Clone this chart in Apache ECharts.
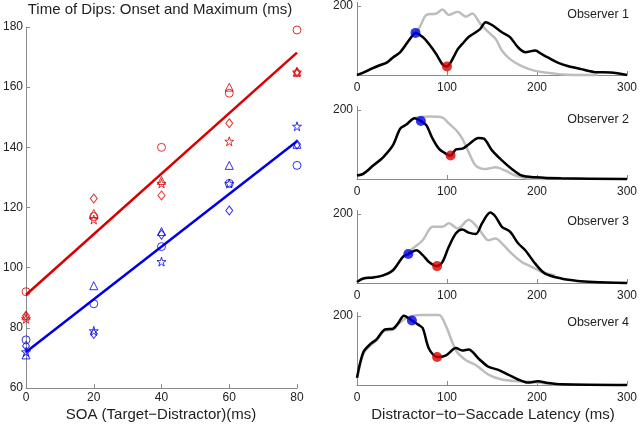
<!DOCTYPE html>
<html>
<head>
<meta charset="utf-8">
<script src="https://cdn.jsdelivr.net/npm/echarts@6/dist/echarts.min.js"></script>
<style>html,body{margin:0;padding:0;background:#fff}#c{width:640px;height:424px}</style>
</head>
<body>
<div id="c"></div>
<script>
// ---------- Left panel data ----------
const soa = [0, 20, 40, 60, 80];
const xTicks = [0, 20, 40, 60, 80];
const yTicks = [60, 80, 100, 120, 140, 160, 180];
// Onset (blue)
const onsetCircle   = [76, 88, 107, 128, 134];
const onsetTriangle = [71, 94, 112, 134, 141];
const onsetDiamond  = [74, 78, 111, 119, 141];
const onsetStar     = [72, 79, 102, 128, 147];
// Maximum (red)
const maxCircle   = [92, 117, 140, 158, 179];
const maxTriangle = [84, 118, 129, 160, 165];
const maxDiamond  = [84, 123, 124, 148, 165];
const maxStar     = [83, 116, 128, 142, 165];
// Fit lines
const fitX = [0, 80];
const onsetFit = [72, 142];
const maxFit = [91, 171.5];

// ---------- Right panels data: [latency ms, count] ----------
const obs1Black = [[0,0],[7,7],[15,17],[26,29],[33,36],[40,51],[48,66],[59,105],[65,122],[73,110],[80,90],[88,61],[95,31],[100,25],[104,36],[112,75],[117,90],[124,110],[132,124],[137,134],[143,153],[150,145],[161,124],[170,110],[179,80],[187,66],[198,71],[205,61],[212,51],[223,36],[234,26],[249,17],[263,9],[282,7],[300,0]];
const obs1Gray = [[0,0],[7,7],[15,17],[26,29],[33,36],[40,51],[48,66],[59,105],[65,122],[70,140],[77,174],[88,178],[95,190],[102,174],[112,183],[121,169],[128,178],[137,149],[146,124],[154,105],[161,71],[170,46],[183,26],[198,12],[220,4],[234,1],[267,0]];
const obs2Black = [[0,10],[7,15],[18,39],[29,63],[40,98],[48,146],[55,158],[64,176],[71,168],[77,156],[84,117],[91,88],[99,73],[104,68],[110,86],[117,88],[124,100],[135,119],[141,117],[150,83],[161,54],[172,29],[183,10],[198,5],[227,2],[300,0]];
const obs2Gray = [[0,10],[7,15],[18,39],[29,63],[40,98],[48,146],[55,158],[64,176],[80,181],[95,178],[102,161],[110,142],[117,117],[124,78],[132,39],[143,29],[154,34],[165,24],[176,10],[190,2],[209,0]];
const obs3Black = [[0,3],[7,13],[18,16],[29,22],[40,37],[51,76],[57,84],[66,95],[73,81],[80,61],[89,49],[95,61],[102,105],[110,144],[117,155],[124,146],[132,142],[139,173],[148,204],[154,192],[161,163],[170,149],[179,115],[187,95],[198,56],[209,27],[227,13],[245,6],[263,3],[300,0]];
const obs3Gray = [[0,3],[7,13],[18,16],[29,22],[40,37],[51,76],[57,84],[62,100],[73,124],[84,163],[95,163],[102,173],[112,158],[124,183],[135,158],[146,124],[154,129],[161,115],[172,85],[183,61],[194,47],[205,32],[212,27],[220,22]];
const obs4Black = [[0,21],[7,95],[15,119],[22,133],[31,161],[40,163],[46,180],[52,201],[61,187],[68,175],[73,165],[80,105],[89,81],[99,86],[110,107],[117,100],[124,103],[135,77],[146,53],[157,44],[168,30],[179,16],[190,7],[201,11],[212,6],[227,2],[300,0]];
const obs4Gray = [[0,18],[7,90],[15,115],[22,130],[31,158],[40,160],[46,177],[55,194],[70,203],[91,203],[99,170],[110,100],[121,72],[132,58],[146,30],[161,16],[179,11],[198,8],[220,2],[227,0]];
const onsetDots = [[65,122],[71,168],[57,84],[61,187]];
const maxDots = [[100,25],[104,68],[89,49],[89,81]];
const observerNames = ['Observer 1','Observer 2','Observer 3','Observer 4'];
const latTicks = [0, 100, 200, 300];

const blackCurves = [obs1Black, obs2Black, obs3Black, obs4Black];
const grayCurves = [obs1Gray, obs2Gray, obs3Gray, obs4Gray];

// ---------- styling ----------
const RED = '#d80000', BLUE = '#0000e6';
const FONT = 'Liberation Sans, Arial, Helvetica, sans-serif';
const axisCol = '#8a8a8a';
const starPath = 'path://M50,0 L61,35 L98,35 L68,57 L79,91 L50,70 L21,91 L32,57 L2,35 L39,35 Z';

const grids = [{left: 23, top: 27, width: 274, height: 361}];
const panelY200 = [6, 110, 214, 316];
const h200 = 69;
panelY200.forEach(y => grids.push({left: 357, width: 273, top: y - h200 * 0.05, height: h200 * 1.05}));

function baseAxis(extra) {
  return Object.assign({
    type: 'value',
    axisLine: {show: true, lineStyle: {color: axisCol, width: 1}},
    axisTick: {show: true, inside: true, length: 4, lineStyle: {color: axisCol}},
    splitLine: {show: false},
    axisLabel: {color: '#222', fontSize: 12, fontFamily: FONT}
  }, extra);
}

const xAxes = [baseAxis({gridIndex: 0, min: 0, max: 80, interval: 20, axisLabel: {color: '#222', fontSize: 12, fontFamily: FONT, margin: 4}})];
const yAxes = [baseAxis({gridIndex: 0, min: 60, max: 180, interval: 20, axisLabel: {color: '#222', fontSize: 12, fontFamily: FONT, margin: 3}})];
for (let i = 0; i < 4; i++) {
  xAxes.push(baseAxis({gridIndex: i + 1, min: 0, max: 300, interval: 100,
    axisLabel: {color: '#222', fontSize: 12, fontFamily: FONT, margin: 7}}));
  yAxes.push(baseAxis({gridIndex: i + 1, min: 0, max: 210,
    axisTick: {show: true, inside: true, length: 4, lineStyle: {color: axisCol}, customValues: [200]},
    axisLabel: {color: '#222', fontSize: 12, fontFamily: FONT, margin: 4, customValues: [200]}}));
}

function zipX(vals) { return soa.map((x, i) => [x, vals[i]]); }
function markerSeries(vals, color, symbol, size) {
  return {type: 'scatter', xAxisIndex: 0, yAxisIndex: 0, data: zipX(vals), symbol: symbol, symbolSize: size,
    itemStyle: {color: 'rgba(0,0,0,0)', borderColor: color, borderWidth: 1}, z: 3, silent: true};
}
const series = [
  markerSeries(maxCircle, RED, 'circle', 8),
  markerSeries(maxTriangle, RED, 'triangle', 8),
  markerSeries(maxDiamond, RED, 'diamond', [7, 9]),
  markerSeries(maxStar, RED, starPath, 9),
  markerSeries(onsetCircle, BLUE, 'circle', 8),
  markerSeries(onsetTriangle, BLUE, 'triangle', 8),
  markerSeries(onsetDiamond, BLUE, 'diamond', [7, 9]),
  markerSeries(onsetStar, BLUE, starPath, 9),
  {type: 'line', xAxisIndex: 0, yAxisIndex: 0, data: fitX.map((x, i) => [x, maxFit[i]]), symbol: 'none',
    lineStyle: {color: RED, width: 2.5}, z: 4, silent: true},
  {type: 'line', xAxisIndex: 0, yAxisIndex: 0, data: fitX.map((x, i) => [x, onsetFit[i]]), symbol: 'none',
    lineStyle: {color: BLUE, width: 2.5}, z: 4, silent: true}
];
for (let i = 0; i < 4; i++) {
  series.push({type: 'line', xAxisIndex: i + 1, yAxisIndex: i + 1, data: grayCurves[i], symbol: 'none', smooth: 0.3,
    lineStyle: {color: '#bdbdbd', width: 2.5}, z: 2, clip: false, silent: true});
  series.push({type: 'line', xAxisIndex: i + 1, yAxisIndex: i + 1, data: blackCurves[i], symbol: 'none', smooth: 0.3,
    lineStyle: {color: '#000', width: 2.5}, z: 3, clip: false, silent: true});
  series.push({type: 'scatter', xAxisIndex: i + 1, yAxisIndex: i + 1, data: [onsetDots[i]], symbol: 'circle', symbolSize: 10,
    itemStyle: {color: BLUE}, z: 5, silent: true});
  series.push({type: 'scatter', xAxisIndex: i + 1, yAxisIndex: i + 1, data: [maxDots[i]], symbol: 'circle', symbolSize: 10,
    itemStyle: {color: RED}, z: 5, silent: true});
}

const graphics = [
  {type: 'text', style: {text: 'Time of Dips: Onset and Maximum (ms)', x: 160, y: 10, align: 'center', verticalAlign: 'middle', fontSize: 15, fontFamily: FONT, fill: '#222'}},
  {type: 'text', style: {text: 'SOA (Target\u2212Distractor)(ms)', x: 161, y: 415, align: 'center', verticalAlign: 'middle', fontSize: 15, fontFamily: FONT, fill: '#222'}},
  {type: 'text', style: {text: 'Distractor\u2212to\u2212Saccade Latency (ms)', x: 493, y: 415, align: 'center', verticalAlign: 'middle', fontSize: 15, fontFamily: FONT, fill: '#222'}}
];
const obsLabelY = [15, 120, 222, 323];
observerNames.forEach((n, i) => graphics.push({type: 'text', style: {text: n, x: 629, y: obsLabelY[i], align: 'right', verticalAlign: 'middle', fontSize: 12.5, fontFamily: FONT, fill: '#222'}}));

const chart = echarts.init(document.getElementById('c'), null, {renderer: 'canvas'});
chart.setOption({
  animation: false,
  backgroundColor: '#fff',
  grid: grids,
  xAxis: xAxes,
  yAxis: yAxes,
  series: series,
  graphic: graphics
});
</script>
</body>
</html>
